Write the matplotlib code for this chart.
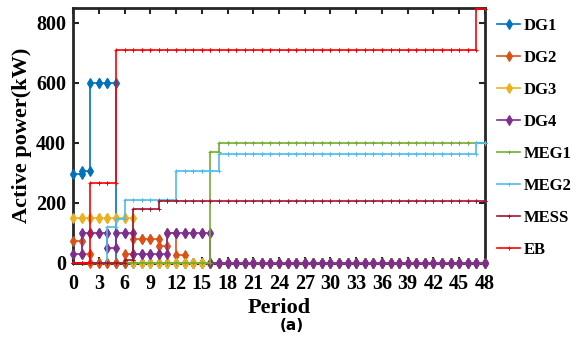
import matplotlib.pyplot as plt
import numpy as np

plt.rcParams['font.family'] = ['Liberation Serif', 'DejaVu Serif']
plt.rcParams['font.weight'] = 'bold'

# hourly set-points, periods 0..47 (kW)
periods = np.arange(48)
dg1 = [295, 305, 600, 600, 600, 0, 0, 0, 0, 0, 0, 0, 0, 0, 0, 0,
       0, 0, 0, 0, 0, 0, 0, 0, 0, 0, 0, 0, 0, 0, 0, 0,
       0, 0, 0, 0, 0, 0, 0, 0, 0, 0, 0, 0, 0, 0, 0, 0]
dg2 = [72, 30, 0, 0, 0, 0, 30, 80, 80, 80, 57, 100, 28, 0, 0, 0,
       0, 0, 0, 0, 0, 0, 0, 0, 0, 0, 0, 0, 0, 0, 0, 0,
       0, 0, 0, 0, 0, 0, 0, 0, 0, 0, 0, 0, 0, 0, 0, 0]
dg3 = [150, 150, 150, 150, 150, 150, 150, 0, 0, 0, 0, 0, 0, 0, 0, 0,
       0, 0, 0, 0, 0, 0, 0, 0, 0, 0, 0, 0, 0, 0, 0, 0,
       0, 0, 0, 0, 0, 0, 0, 0, 0, 0, 0, 0, 0, 0, 0, 0]
dg4 = [30, 100, 100, 100, 50, 100, 100, 30, 30, 30, 30, 100, 100, 100, 100, 100,
       0, 0, 0, 0, 0, 0, 0, 0, 0, 0, 0, 0, 0, 0, 0, 0,
       0, 0, 0, 0, 0, 0, 0, 0, 0, 0, 0, 0, 0, 0, 0, 0]
meg1 = [0, 0, 0, 0, 0, 0, 0, 0, 0, 0, 0, 0, 0, 0, 0, 0,
        370, 400, 400, 400, 400, 400, 400, 400, 400, 400, 400, 400, 400, 400, 400, 400,
        400, 400, 400, 400, 400, 400, 400, 400, 400, 400, 400, 400, 400, 400, 400, 400]
meg2 = [0, 0, 0, 0, 120, 145, 210, 210, 210, 210, 210, 210, 308, 308, 308, 308,
        308, 363, 363, 363, 363, 363, 363, 363, 363, 363, 363, 363, 363, 363, 363, 363,
        363, 363, 363, 363, 363, 363, 363, 363, 363, 363, 363, 363, 363, 363, 363, 400]
mess = [0, 0, 0, 0, 0, 0, 10, 180, 180, 180, 205, 205, 205, 205, 205, 205,
        205, 205, 205, 205, 205, 205, 205, 205, 205, 205, 205, 205, 205, 205, 205, 205,
        205, 205, 205, 205, 205, 205, 205, 205, 205, 205, 205, 205, 205, 205, 205, 205]
eb = [0, 0, 265, 265, 265, 710, 710, 710, 710, 710, 710, 710, 710, 710, 710, 710,
      710, 710, 710, 710, 710, 710, 710, 710, 710, 710, 710, 710, 710, 710, 710, 710,
      710, 710, 710, 710, 710, 710, 710, 710, 710, 710, 710, 710, 710, 710, 710, 845]

series = [
    ("DG1", dg1, "#0072BD", "d"),
    ("DG2", dg2, "#D95319", "d"),
    ("DG3", dg3, "#EDB120", "d"),
    ("DG4", dg4, "#7E2F8E", "d"),
    ("MEG1", meg1, "#77AC30", "+"),
    ("MEG2", meg2, "#4DBEEE", "+"),
    ("MESS", mess, "#A2142F", "+"),
    ("EB", eb, "#FF0000", "+"),
]


def stair_xy(x, y):
    # corner points of a post-step staircase, closed at the last period + 1
    x = np.append(x, x[-1] + 1)
    y = np.append(y, y[-1])
    xs = np.repeat(x, 2)[1:]
    ys = np.repeat(y, 2)[:-1]
    return xs, ys


fig = plt.figure(figsize=(5.8, 3.46), dpi=100)
ax = fig.add_axes([0.126, 0.240, 0.710, 0.737])

for name, vals, col, mk in series:
    xs, ys = stair_xy(periods, vals)
    if mk == "d":
        ax.plot(xs, ys, color=col, lw=1.2, marker="d", ms=4.8, mew=0.8,
                label=name, clip_on=False, zorder=3)
    else:
        ax.plot(xs, ys, color=col, lw=1.2, marker="+", ms=3, mew=0.7,
                label=name, clip_on=False, zorder=3)

ax.set_xlim(0, 48)
ax.set_ylim(0, 850)
ax.set_xticks(np.arange(0, 49, 3))
ax.set_yticks([0, 200, 400, 600, 800])
ax.tick_params(direction="in", length=4, width=1.5, labelsize=14.5,
               top=True, right=True, colors="#262626")
ax.tick_params(axis="x", pad=8)
ax.tick_params(axis="y", pad=5)
for lab in ax.get_xticklabels() + ax.get_yticklabels():
    lab.set_fontweight("bold")
    lab.set_color("black")
for sp in ax.spines.values():
    sp.set_linewidth(2)
    sp.set_color("#262626")

ax.set_xlabel("Period", fontsize=16, fontweight="bold", labelpad=3)
ax.set_ylabel("Active power(kW)", fontsize=16, fontweight="bold", labelpad=3)

ax.legend(loc="upper left", bbox_to_anchor=(497 / 580, 0.948),
          bbox_transform=fig.transFigure, frameon=False,
          fontsize=12, handlelength=1.4, handletextpad=0.2,
          labelspacing=0.96, borderpad=0, borderaxespad=0)

fig.text(0.503, 0.058, "(a)", fontsize=11, fontweight="bold",
         family=["DejaVu Sans"], ha="center", va="center")

fig.savefig("out.png", dpi=100)
